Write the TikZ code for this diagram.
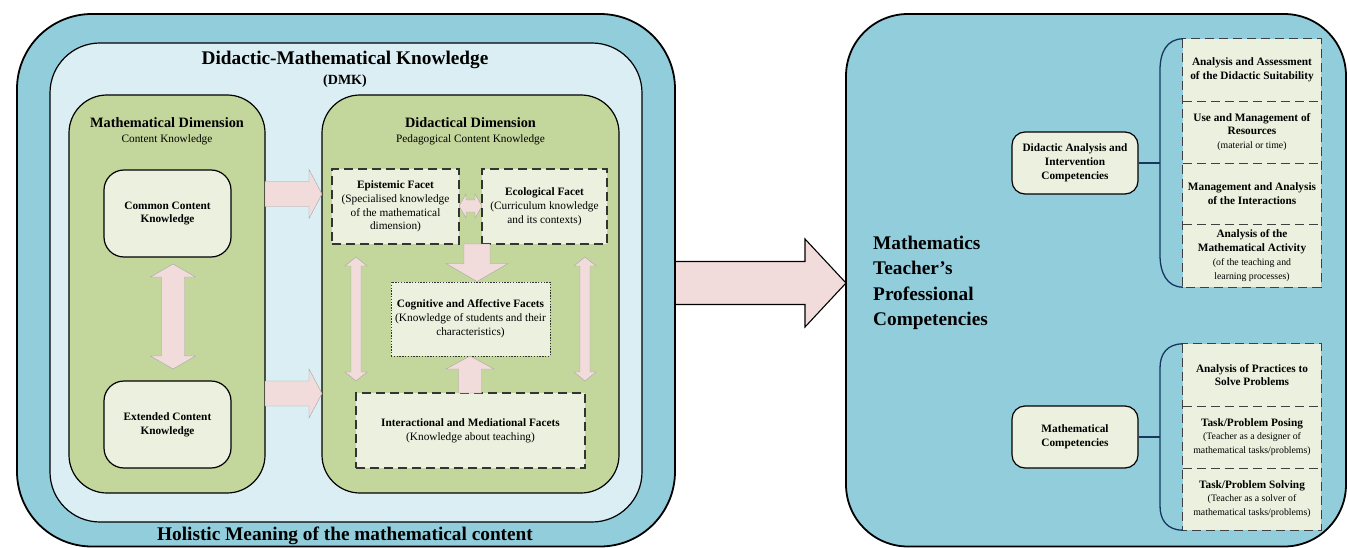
\documentclass[tikz,border=0pt]{standalone}
\usepackage{fontspec}
\setmainfont{Liberation Serif}
\usetikzlibrary{calc}
\definecolor{outerblue}{HTML}{92CDDC}
\definecolor{innerblue}{HTML}{DAEEF3}
\definecolor{dimgreen}{HTML}{C3D69B}
\definecolor{lightgreen}{HTML}{EBF1DE}
\definecolor{pinkc}{HTML}{F2DCDB}
\definecolor{navyline}{HTML}{17375E}
\newcommand\bodyf{\fontsize{11.3}{13.8}\selectfont}
\newcommand\smallf{\fontsize{9.8}{12.2}\selectfont}
\newcommand\headf{\fontsize{14.3}{16}\selectfont\bfseries}
\newcommand\bigf{\fontsize{19.3}{25.3}\selectfont\bfseries}
% block arrows
\newcommand\harr[7][pinkarr]{\filldraw[#1] ({#2},{#4-#5}) -- ({#3-#7},{#4-#5}) -- ({#3-#7},{#4-#6}) -- ({#3},{#4}) -- ({#3-#7},{#4+#6}) -- ({#3-#7},{#4+#5}) -- ({#2},{#4+#5}) -- cycle;}
\newcommand\vdarr[6]{\filldraw[pinkarr] ({#1},{#2}) -- ({#1+#5},{#2+#6}) -- ({#1+#4},{#2+#6}) -- ({#1+#4},{#3-#6}) -- ({#1+#5},{#3-#6}) -- ({#1},{#3}) -- ({#1-#5},{#3-#6}) -- ({#1-#4},{#3-#6}) -- ({#1-#4},{#2+#6}) -- ({#1-#5},{#2+#6}) -- cycle;}
\newcommand\hdarr[6]{\filldraw[pinkarr] ({#1},{#3}) -- ({#1+#6},{#3-#5}) -- ({#1+#6},{#3-#4}) -- ({#2-#6},{#3-#4}) -- ({#2-#6},{#3-#5}) -- ({#2},{#3}) -- ({#2-#6},{#3+#5}) -- ({#2-#6},{#3+#4}) -- ({#1+#6},{#3+#4}) -- ({#1+#6},{#3+#5}) -- cycle;}
\newcommand\downarr[6]{\filldraw[pinkarr] ({#1-#4},{#2}) -- ({#1-#4},{#3-#6}) -- ({#1-#5},{#3-#6}) -- ({#1},{#3}) -- ({#1+#5},{#3-#6}) -- ({#1+#4},{#3-#6}) -- ({#1+#4},{#2}) -- cycle;}
\newcommand\uparr[6]{\filldraw[pinkarr] ({#1-#4},{#2}) -- ({#1-#4},{#3+#6}) -- ({#1-#5},{#3+#6}) -- ({#1},{#3}) -- ({#1+#5},{#3+#6}) -- ({#1+#4},{#3+#6}) -- ({#1+#4},{#2}) -- cycle;}
\begin{document}
\begin{tikzpicture}[x=1pt,y=-1pt,
  outerbox/.style={draw=black, line width=1.8pt, fill=outerblue, inner sep=0pt},
  rbox/.style={draw=black, line width=1.2pt, inner sep=0pt, align=center, font=\bodyf\bfseries},
  dbox/.style={draw=black!80, line width=1.3pt, dash pattern=on 9pt off 5pt, fill=lightgreen, inner sep=0pt, align=center, font=\bodyf},
  cell/.style={fill=lightgreen, inner sep=0pt, align=center, font=\bodyf, minimum width=138pt},
  dashline/.style={draw=black!75, line width=1.3pt, dash pattern=on 9pt off 5pt},
  txt/.style={inner sep=0pt, align=center},
  pinkarr/.style={fill=pinkc, draw=black!35, line width=0.4pt},
  bigarr/.style={fill=pinkc, draw=black, line width=1.1pt},
  conn/.style={draw=navyline, line width=1.3pt}]
\useasboundingbox (0,0) rectangle (1348,548);

% big arrow between panels
\harr[bigarr]{672}{846}{283}{21.5}{44}{41}

% ---------- left panel ----------
\node[outerbox, rounded corners=75pt, minimum width=658pt, minimum height=532.5pt] (leftouter) at (346,280.25) {};
\node[draw=black, line width=1.2pt, fill=innerblue, rounded corners=50pt, minimum width=592pt, minimum height=479pt, inner sep=0pt] (dmk) at (346,282.5) {};
\node[txt, font=\fontsize{19.3}{22}\selectfont\bfseries] (dmktitle) at (345,60) {Didactic-Mathematical Knowledge};
\node[txt, font=\fontsize{14}{16}\selectfont\bfseries] (dmkabbr) at (345,81) {(DMK)};
\node[txt, font=\fontsize{19.3}{22}\selectfont\bfseries] (holistic) at (345,536) {Holistic Meaning of the mathematical content};

\node[draw=black, line width=1.2pt, fill=dimgreen, rounded corners=38pt, minimum width=196pt, minimum height=398pt, inner sep=0pt] (mathdim) at (167,294) {};
\node[draw=black, line width=1.2pt, fill=dimgreen, rounded corners=38pt, minimum width=297pt, minimum height=398pt, inner sep=0pt] (diddim) at (470.5,294) {};
\node[txt, font=\headf] (mathdimt) at (167,123) {Mathematical Dimension};
\node[txt, font=\bodyf] (mathdims) at (167,139.5) {Content Knowledge};
\node[txt, font=\headf] (diddimt) at (470.5,123) {Didactical Dimension};
\node[txt, font=\bodyf] (diddims) at (470.5,139.5) {Pedagogical Content Knowledge};

\node[rbox, fill=lightgreen, rounded corners=20pt, minimum width=127pt, minimum height=87pt] (cck) at (167.5,213.5) {Common Content\\Knowledge};
\node[rbox, fill=lightgreen, rounded corners=20pt, minimum width=127pt, minimum height=87pt] (eck) at (167.5,424.5) {Extended Content\\Knowledge};

\node[dbox, minimum width=127pt, minimum height=75pt] (epi) at (395.5,206.5) {\textbf{Epistemic Facet}\\(Specialised knowledge\\of the mathematical\\dimension)};
\node[dbox, minimum width=125pt, minimum height=75pt] (eco) at (544.5,206.5) {\textbf{Ecological Facet}\\(Curriculum knowledge\\and its contexts)};
\node[dbox, dash pattern=on 1.4pt off 1.4pt, line width=1pt, minimum width=159pt, minimum height=74pt] (cog) at (470.5,319) {\textbf{Cognitive and Affective Facets}\\(Knowledge of students and their\\characteristics)};
\node[dbox, minimum width=229pt, minimum height=75pt] (inter) at (470.5,430.5) {\textbf{Interactional and Mediational Facets}\\(Knowledge about teaching)};

% pink arrows in left panel
\harr{265}{322}{194}{12.5}{24.5}{13}
\harr{265}{322}{393.5}{12.5}{24.5}{13}
\vdarr{173}{264}{369}{11.5}{22.5}{13}
\vdarr{356}{257}{381}{5}{11}{9}
\vdarr{585}{257}{381}{5}{11}{9}
\hdarr{459}{482}{206}{6}{12}{7}
\downarr{477}{244}{281.5}{13}{31}{18}
\uparr{470}{393}{356}{11.5}{24}{13}

% ---------- right panel ----------
\node[outerbox, rounded corners=62pt, minimum width=500pt, minimum height=532.5pt] (rightouter) at (1096,280.25) {};
\node[txt, anchor=west, align=left, font=\bigf] (mtpc) at (873,283) {Mathematics\\Teacher’s\\Professional\\Competencies};

\node[rbox, fill=lightgreen, rounded corners=13pt, minimum width=126pt, minimum height=62pt] (dai) at (1075,163) {Didactic Analysis and\\Intervention\\Competencies};
\node[rbox, fill=lightgreen, rounded corners=13pt, minimum width=126pt, minimum height=62pt] (mc) at (1075,437) {Mathematical\\Competencies};

% upper column
\node[cell, minimum height=62pt] (u1) at (1252,70) {\textbf{Analysis and Assessment}\\\textbf{of the Didactic Suitability}};
\node[cell, minimum height=62pt] (u2) at (1252,132) {\textbf{Use and Management of}\\\textbf{Resources}\\{\smallf(material or time)}};
\node[cell, minimum height=61pt] (u3) at (1252,193.5) {\textbf{Management and Analysis}\\\textbf{of the Interactions}};
\node[cell, minimum height=63pt] (u4) at (1252,255.5) {\textbf{Analysis of the}\\\textbf{Mathematical Activity}\\{\smallf(of the teaching and}\\{\smallf learning processes)}};
\draw[dashline] (u1.north west) rectangle (u4.south east);
\draw[dashline] (u1.south west) -- (u1.south east);
\draw[dashline] (u2.south west) -- (u2.south east);
\draw[dashline] (u3.south west) -- (u3.south east);

% lower column
\node[cell, minimum height=62pt] (l1) at (1252,375) {\textbf{Analysis of Practices to}\\\textbf{Solve Problems}};
\node[cell, minimum height=62pt] (l2) at (1252,437) {\textbf{Task/Problem Posing}\\{\smallf(Teacher as a designer of}\\{\smallf mathematical tasks/problems)}};
\node[cell, minimum height=62pt] (l3) at (1252,499) {\textbf{Task/Problem Solving}\\{\smallf(Teacher as a solver of}\\{\smallf mathematical tasks/problems)}};
\draw[dashline] (l1.north west) rectangle (l3.south east);
\draw[dashline] (l1.south west) -- (l1.south east);
\draw[dashline] (l2.south west) -- (l2.south east);

% brackets and connectors
\coordinate (ub) at (1160,163);
\coordinate (lb) at (1160,437);
\draw[conn] (u1.north west) .. controls (1167,39) and (1160,52) .. (1160,70) -- (1160,255) .. controls (1160,273) and (1167,287) .. (u4.south west);
\draw[conn] (l1.north west) .. controls (1167,344) and (1160,354) .. (1160,368) -- (1160,506) .. controls (1160,520) and (1167,530) .. (l3.south west);
\draw[conn] (dai.east) -- (ub);
\draw[conn] (mc.east) -- (lb);
\end{tikzpicture}
\end{document}
